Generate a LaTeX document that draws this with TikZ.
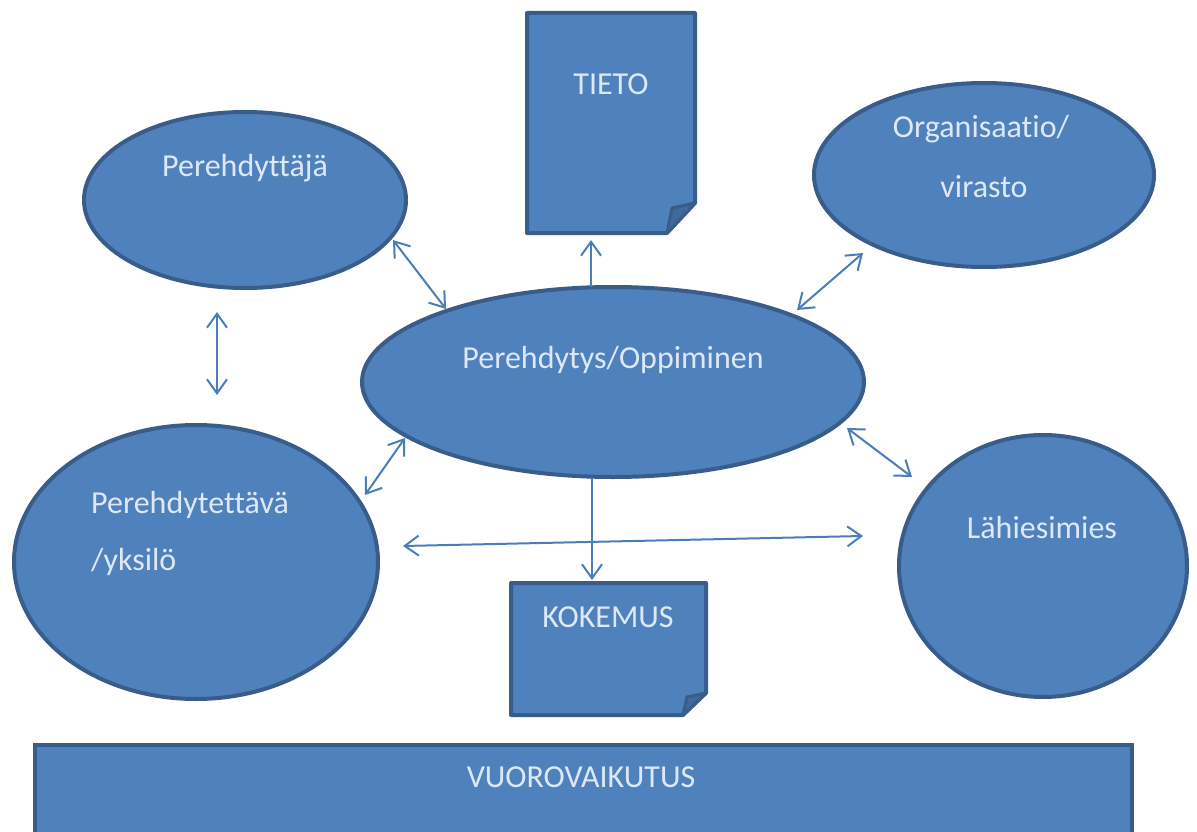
\documentclass[tikz,border=0pt]{standalone}
\usepackage{fontspec}
\setmainfont[Ligatures={NoCommon}]{Carlito}
\usetikzlibrary{shapes.geometric,arrows.meta}
\definecolor{fillblue}{HTML}{4F81BD}
\definecolor{borderblue}{HTML}{385D8A}
\definecolor{arrowblue}{HTML}{4A7EBB}
\definecolor{foldblue}{HTML}{41699A}
\definecolor{txt}{RGB}{222,232,244}
\tikzset{
  oval/.style={ellipse, draw=borderblue, fill=fillblue, line width=4pt, inner sep=0pt},
  docshape/.style={draw=borderblue, fill=fillblue, line width=4pt, line join=round},
  foldshape/.style={draw=borderblue, fill=foldblue, line width=3pt, line join=round},
  lbl/.style={text=txt, font=\fontsize{32}{38}\selectfont, inner sep=0pt, anchor=base},
  lbll/.style={lbl, anchor=base west},
  conn/.style={draw=arrowblue, line width=2pt, {Straight Barb[length=14pt,width=20pt]}-{Straight Barb[length=14pt,width=20pt]}},
  conn1/.style={draw=arrowblue, line width=2pt, -{Straight Barb[length=14pt,width=20pt]}}
}
\begin{document}
\begin{tikzpicture}[x=1pt,y=-1pt]
\useasboundingbox (0,0) rectangle (1197,832);
\clip (0,0) rectangle (1197,832);
\fill[white] (0,0) rectangle (1197,832);

% ellipses
\node[oval, minimum width=322, minimum height=176] (perehdyttaja) at (245,200) {};
\node[oval, minimum width=340, minimum height=184] (organisaatio) at (984,175) {};
\node[oval, minimum width=502, minimum height=190] (oppiminen) at (613,382) {};
\node[oval, minimum width=364, minimum height=274] (perehdytettava) at (196,562) {};
\node[oval, minimum width=288, minimum height=262] (lahiesimies) at (1043,566) {};

% documents
\path[docshape] (527,13) -- (695,13) -- (695,203) -- (667,233) -- (527,233) -- cycle;
\path[foldshape] (695,203) -- (672,208) -- (667,233) -- cycle;
\node[inner sep=0pt, minimum width=168, minimum height=220] (tieto) at (611,123) {};

\path[docshape] (511,583) -- (706,583) -- (706,693) -- (683,715) -- (511,715) -- cycle;
\path[foldshape] (706,693) -- (687,697) -- (683,715) -- cycle;
\node[inner sep=0pt, minimum width=195, minimum height=132] (kokemus) at (608,649) {};

% bottom bar
\node[draw=borderblue, fill=fillblue, line width=4pt, inner sep=0pt, minimum width=1097, minimum height=120, anchor=north west] (vuoro) at (33,743) {};

% labels
\node[lbl] (tPer) at (245,177) {Perehdyttäjä};
\node[lbl] (tTieto) at (611,95) {TIETO};
\node[lbl] (tOrg1) at (981,138) {Organisaatio/};
\node[lbl] (tOrg2) at (984,197) {virasto};
\node[lbl] (tOpp) at (613,368) {Perehdytys/Oppiminen};
\node[lbll] (tPtt1) at (91,513) {Perehdytettävä};
\node[lbll] (tPtt2) at (91,570) {/yksilö};
\node[lbl] (tLah) at (1042,538) {Lähiesimies};
\node[lbl] (tKok) at (608,627) {KOKEMUS};
\node[lbl] (tVuo) at (581,787) {VUOROVAIKUTUS};

% connector end points
\coordinate (a1s) at (393,240); \coordinate (a1e) at (446,309);
\coordinate (a2s) at (591,287); \coordinate (a2e) at (591,240);
\coordinate (a3s) at (863,253); \coordinate (a3e) at (797,310);
\coordinate (a4s) at (847,428); \coordinate (a4e) at (912,477);
\coordinate (a5s) at (217,312); \coordinate (a5e) at (217,395);
\coordinate (a6s) at (405,438); \coordinate (a6e) at (365,495);
\coordinate (a7s) at (403,546); \coordinate (a7e) at (863,536);
\coordinate (a8s) at (592,478); \coordinate (a8e) at (592,580);

\draw[conn] (a1s) -- (a1e);
\draw[conn1] (a2s) -- (a2e);
\draw[conn] (a3s) -- (a3e);
\draw[conn] (a4s) -- (a4e);
\draw[conn] (a5s) -- (a5e);
\draw[conn] (a6s) -- (a6e);
\draw[conn] (a7s) -- (a7e);
\draw[conn1] (a8s) -- (a8e);
\end{tikzpicture}
\end{document}
